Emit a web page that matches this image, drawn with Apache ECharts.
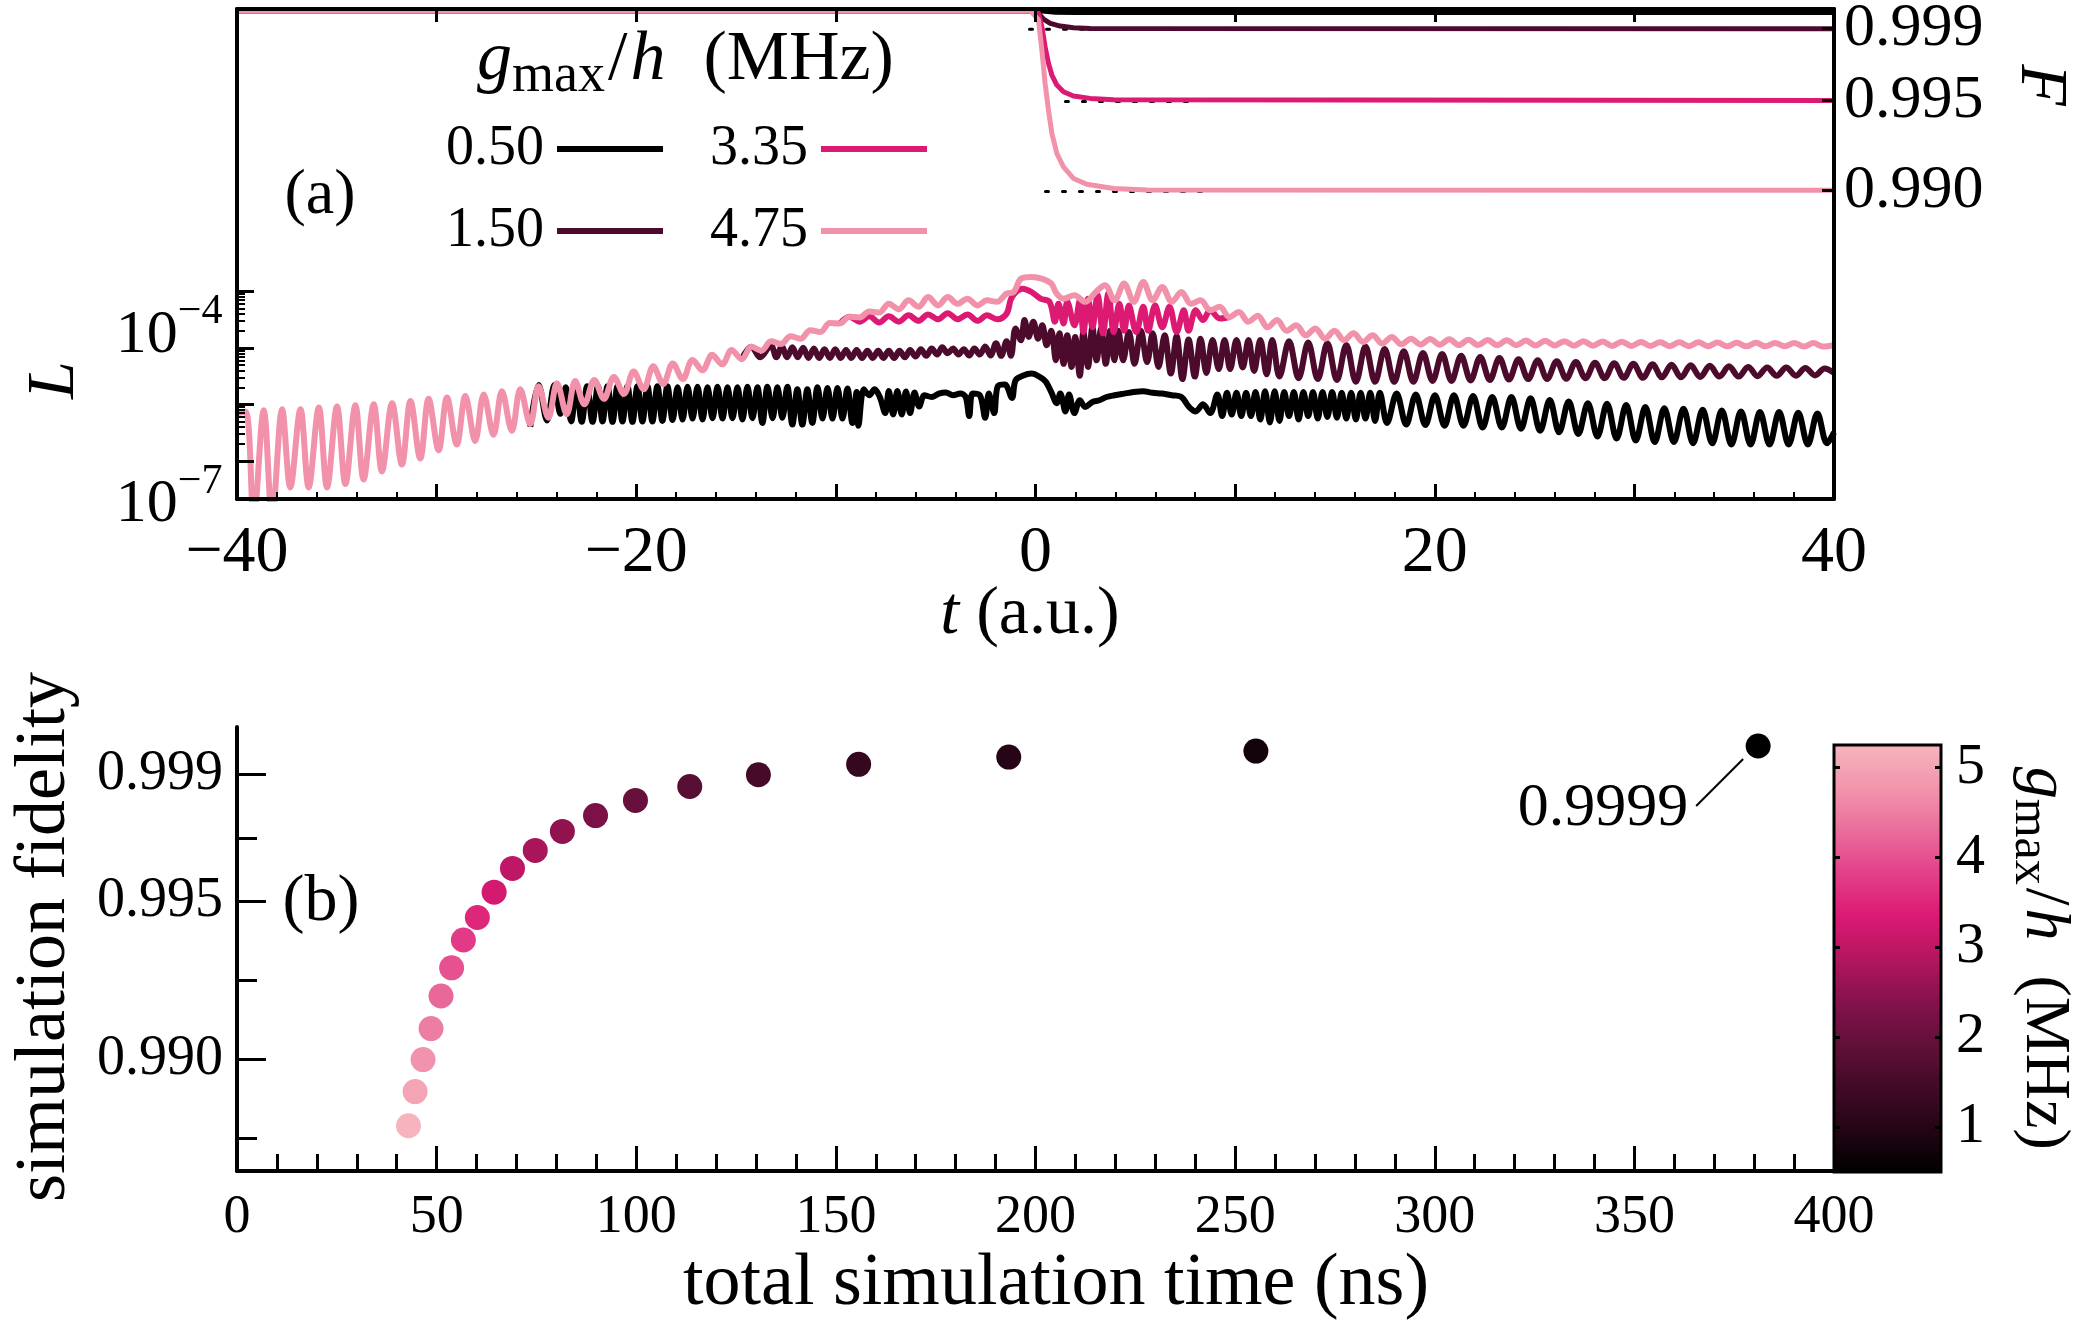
<!DOCTYPE html>
<html><head><meta charset="utf-8">
<script src="https://cdn.jsdelivr.net/npm/echarts@6/dist/echarts.min.js"></script>
<style>html,body{margin:0;padding:0;background:#fff}#c{width:2078px;height:1329px}</style>
</head><body><div id="c"></div>
<script>
// ================= DATA =================
// panel (a): legend values g_max/h (MHz)
const gNames = ['0.50', '1.50', '3.35', '4.75'];
// leakage L(t), [t, L]
const L_050 = [[-25.31,4.0e-7],[-24.89,2.2e-6],[-24.47,5.2e-7],[-24.1,2.2e-6],[-23.80,6.8e-7],[-23.53,2.0e-6],[-23.26,5.0e-7],[-23.00,2.05e-6],[-22.73,4.9e-7],[-22.46,2.1e-6],[-22.19,4.9e-7],[-21.92,2.1e-6],[-21.69,5.0e-7],[-21.44,2.1e-6],[-21.19,4.9e-7],[-20.94,2.1e-6],[-20.69,5.0e-7],[-20.44,2.1e-6],[-20.19,4.9e-7],[-19.94,2.1e-6],[-19.69,5.0e-7],[-19.44,2.1e-6],[-19.19,5.0e-7],[-18.94,2.1e-6],[-18.69,5.1e-7],[-18.44,2.1e-6],[-18.18,5.3e-7],[-17.93,2.0e-6],[-17.68,5.4e-7],[-17.43,2.05e-6],[-17.18,5.6e-7],[-16.93,2.05e-6],[-16.68,5.4e-7],[-16.43,2.0e-6],[-16.18,5.7e-7],[-15.93,2.05e-6],[-15.68,5.6e-7],[-15.43,2.0e-6],[-15.18,5.7e-7],[-14.93,2.0e-6],[-14.68,5.4e-7],[-14.43,2.05e-6],[-14.18,5.7e-7],[-13.93,2.0e-6],[-13.68,4.7e-7],[-13.43,2.05e-6],[-13.17,5.7e-7],[-12.93,2.0e-6],[-12.68,5.8e-7],[-12.43,2.05e-6],[-12.18,4.4e-7],[-11.93,1.85e-6],[-11.68,4.4e-7],[-11.43,1.85e-6],[-11.18,4.7e-7],[-10.92,2.0e-6],[-10.67,5.6e-7],[-10.42,1.95e-6],[-10.17,5.6e-7],[-9.92,1.95e-6],[-9.67,5.6e-7],[-9.42,1.9e-6],[-9.17,4.7e-7],[-8.96,1.65e-6],[-8.87,4.2e-7],[-8.60,1.85e-6],[-8.33,1.45e-6],[-8.06,1.85e-6],[-7.80,1.35e-6],[-7.53,7.0e-7],[-7.35,1.72e-6],[-7.13,6.6e-7],[-6.92,1.72e-6],[-6.70,6.6e-7],[-6.49,1.68e-6],[-6.28,7.0e-7],[-6.06,1.62e-6],[-5.83,9.2e-7],[-5.56,1.45e-6],[-5.20,1.35e-6],[-4.84,1.55e-6],[-4.49,1.62e-6],[-4.13,1.45e-6],[-3.77,1.55e-6],[-3.50,1.35e-6],[-3.32,6.2e-7],[-3.15,1.55e-6],[-2.79,1.45e-6],[-2.52,5.8e-7],[-2.34,1.55e-6],[-2.07,7.0e-7],[-1.89,2.1e-6],[-1.54,2.25e-6],[-1.18,1.3e-6],[-1.00,2.65e-6],[-0.64,3.2e-6],[-0.20,3.5e-6],[0.25,3.0e-6],[0.52,2.5e-6],[0.79,1.65e-6],[1.06,1.05e-6],[1.24,1.55e-6],[1.50,7.5e-7],[1.68,1.5e-6],[1.95,7.0e-7],[2.22,1.18e-6],[2.49,9.0e-7],[2.85,1.1e-6],[3.20,1.18e-6],[3.56,1.35e-6],[3.96,1.45e-6],[4.44,1.55e-6],[4.92,1.65e-6],[5.40,1.7e-6],[5.87,1.6e-6],[6.35,1.55e-6],[6.83,1.45e-6],[7.31,1.35e-6],[7.67,9.2e-7],[8.03,7.5e-7],[8.39,1.0e-6],[8.75,7.0e-7],[9.11,1.5e-6],[9.35,6.2e-7],[9.59,1.6e-6],[9.83,6.6e-7],[10.07,1.6e-6],[10.31,6.2e-7],[10.55,1.6e-6],[10.79,6.2e-7],[11.02,1.65e-6],[11.26,5.4e-7],[11.50,1.7e-6],[11.74,4.8e-7],[11.98,1.7e-6],[12.22,5.1e-7],[12.46,1.65e-6],[12.70,6.2e-7],[12.94,1.65e-6],[13.18,5.4e-7],[13.42,1.65e-6],[13.66,6.2e-7],[13.90,1.65e-6],[14.14,5.6e-7],[14.38,1.65e-6],[14.62,6.0e-7],[14.86,1.65e-6],[15.10,5.8e-7],[15.34,1.6e-6],[15.57,5.6e-7],[15.81,1.6e-6],[16.05,5.4e-7],[16.29,1.6e-6],[16.53,5.6e-7],[16.77,1.6e-6],[17.01,5.1e-7],[17.25,1.6e-6],[17.61,4.7e-7],[18.09,1.55e-6],[18.57,4.4e-7],[19.05,1.5e-6],[19.53,4.3e-7],[20.01,1.45e-6],[20.49,4.2e-7],[20.96,1.45e-6],[21.44,4.2e-7],[21.92,1.4e-6],[22.40,3.9e-7],[22.88,1.35e-6],[23.36,3.9e-7],[23.84,1.35e-6],[24.32,3.7e-7],[24.80,1.28e-6],[25.28,3.4e-7],[25.76,1.2e-6],[26.23,3.2e-7],[26.71,1.12e-6],[27.19,3.0e-7],[27.67,1.05e-6],[28.15,2.7e-7],[28.63,1.03e-6],[29.11,2.5e-7],[29.59,9.7e-7],[30.07,2.3e-7],[30.55,9.0e-7],[31.02,2.15e-7],[31.50,8.5e-7],[31.98,2.15e-7],[32.46,8.4e-7],[32.94,2.05e-7],[33.42,8.0e-7],[33.90,2.05e-7],[34.38,7.8e-7],[34.86,1.95e-7],[35.34,7.5e-7],[35.82,1.95e-7],[36.29,7.3e-7],[36.77,1.95e-7],[37.25,7.3e-7],[37.73,1.95e-7],[38.21,7.1e-7],[38.69,1.95e-7],[39.17,6.9e-7],[39.65,2.05e-7],[40,3.2e-7]];
const L_150 = [[-14.72,6.3e-6],[-14.23,1.04e-5],[-13.79,6.8e-6],[-13.25,1.1e-5],[-12.98,6.8e-6],[-12.71,1.05e-5],[-12.44,6.8e-6],[-12.18,1.02e-5],[-11.91,6.8e-6],[-11.64,1.0e-5],[-11.37,6.6e-6],[-11.10,9.7e-6],[-10.84,6.6e-6],[-10.57,9.4e-6],[-10.30,6.6e-6],[-10.03,9.4e-6],[-9.76,6.6e-6],[-9.49,9.1e-6],[-9.23,6.6e-6],[-8.96,9.1e-6],[-8.69,6.6e-6],[-8.42,8.9e-6],[-8.15,6.6e-6],[-7.88,8.9e-6],[-7.62,6.6e-6],[-7.35,8.9e-6],[-7.08,6.6e-6],[-6.81,8.9e-6],[-6.54,6.8e-6],[-6.28,9.1e-6],[-6.01,7.0e-6],[-5.74,9.4e-6],[-5.47,7.2e-6],[-5.20,9.7e-6],[-4.93,7.6e-6],[-4.67,1.02e-5],[-4.40,8.0e-6],[-4.13,9.7e-6],[-3.86,7.6e-6],[-3.59,9.4e-6],[-3.32,7.3e-6],[-3.06,9.7e-6],[-2.79,7.6e-6],[-2.52,1.05e-5],[-2.25,7.3e-6],[-1.98,1.2e-5],[-1.72,7.2e-6],[-1.45,1.3e-5],[-1.23,7.2e-6],[-1.00,2.2e-5],[-0.73,1.36e-5],[-0.55,3.1e-5],[-0.34,1.56e-5],[-0.11,2.9e-5],[0.13,1.45e-5],[0.34,2.5e-5],[0.56,1.11e-5],[0.79,2.0e-5],[1.02,6.0e-6],[1.20,1.8e-5],[1.41,5.2e-6],[1.59,1.66e-5],[1.81,4.6e-6],[1.99,1.56e-5],[2.22,3.2e-6],[2.40,1.9e-5],[2.63,4.6e-6],[2.85,2.3e-5],[3.06,6.0e-6],[3.29,2.2e-5],[3.52,5.2e-6],[3.74,2.0e-5],[3.95,6.0e-6],[4.15,2.0e-5],[4.39,6.0e-6],[4.68,1.9e-5],[4.96,5.2e-6],[5.28,2.0e-5],[5.59,5.6e-6],[5.87,1.8e-5],[6.16,4.6e-6],[6.47,1.66e-5],[6.78,3.5e-6],[7.07,1.6e-5],[7.36,2.8e-6],[7.67,1.4e-5],[7.98,3.1e-6],[8.27,1.45e-5],[8.56,3.6e-6],[8.87,1.38e-5],[9.18,4.2e-6],[9.47,1.38e-5],[9.75,4.2e-6],[10.07,1.38e-5],[10.38,4.5e-6],[10.67,1.38e-5],[10.95,3.9e-6],[11.26,1.38e-5],[11.58,3.4e-6],[11.86,1.38e-5],[12.22,3.1e-6],[12.70,1.3e-5],[13.18,2.9e-6],[13.66,1.24e-5],[14.14,2.8e-6],[14.62,1.2e-5],[15.10,2.7e-6],[15.57,1.12e-5],[16.05,2.5e-6],[16.53,1.05e-5],[17.01,2.5e-6],[17.49,9.5e-6],[17.97,2.5e-6],[18.45,8.7e-6],[18.93,2.5e-6],[19.41,8.1e-6],[19.89,2.6e-6],[20.37,7.8e-6],[20.84,2.6e-6],[21.32,7.2e-6],[21.80,2.65e-6],[22.28,6.9e-6],[22.76,2.7e-6],[23.24,6.6e-6],[23.72,2.75e-6],[24.20,6.3e-6],[24.68,2.8e-6],[25.16,6.0e-6],[25.63,2.8e-6],[26.11,5.8e-6],[26.59,2.85e-6],[27.07,5.6e-6],[27.55,2.9e-6],[28.03,5.45e-6],[28.51,2.9e-6],[28.99,5.35e-6],[29.47,2.95e-6],[29.95,5.2e-6],[30.43,2.95e-6],[30.91,5.1e-6],[31.38,3.0e-6],[31.86,5.0e-6],[32.34,3.0e-6],[32.82,4.9e-6],[33.30,3.05e-6],[33.78,4.8e-6],[34.26,3.1e-6],[34.74,4.7e-6],[35.22,3.1e-6],[35.70,4.6e-6],[36.17,3.15e-6],[36.65,4.5e-6],[37.13,3.2e-6],[37.61,4.5e-6],[38.09,3.2e-6],[38.57,4.4e-6],[39.05,3.25e-6],[39.53,4.3e-6],[40,3.6e-6]];
const L_335 = [[-9.80,2.7e-5],[-9.32,3.55e-5],[-8.81,2.9e-5],[-8.33,3.6e-5],[-7.83,2.8e-5],[-7.35,3.6e-5],[-6.85,2.9e-5],[-6.36,3.75e-5],[-5.86,3.0e-5],[-5.38,3.9e-5],[-4.88,3.2e-5],[-4.40,4.1e-5],[-3.90,3.2e-5],[-3.41,3.9e-5],[-2.91,3.0e-5],[-2.43,3.75e-5],[-1.93,3.2e-5],[-1.45,4.0e-5],[-1.18,7.9e-5],[-0.64,1.11e-4],[-0.20,9.7e-5],[0.25,7.4e-5],[0.70,6.5e-5],[0.97,2.9e-5],[1.15,6.0e-5],[1.41,2.7e-5],[1.59,6.5e-5],[1.95,2.5e-5],[2.22,6.9e-5],[2.40,1.9e-5],[2.63,7.4e-5],[2.85,2.3e-5],[3.11,8.5e-5],[3.38,1.8e-5],[3.65,9.1e-5],[3.92,1.9e-5],[4.20,6.0e-5],[4.44,2.0e-5],[4.68,5.6e-5],[5.04,1.9e-5],[5.40,5.3e-5],[5.64,2.0e-5],[5.99,5.6e-5],[6.35,2.3e-5],[6.71,5.3e-5],[7.07,1.9e-5],[7.43,4.6e-5],[7.67,2.0e-5],[8.03,4.6e-5],[8.39,3.1e-5],[8.75,4.6e-5],[9.23,3.3e-5],[9.71,3.5e-5]];
const L_475 = [[-40,7.0e-7],[-39.57,7.5e-7],[-39.16,1e-8],[-38.66,7.9e-7],[-38.24,1e-8],[-37.74,8.2e-7],[-37.33,3.4e-8],[-36.82,8.2e-7],[-36.41,3.4e-8],[-35.90,8.8e-7],[-35.49,3.4e-8],[-34.99,9.2e-7],[-34.57,3.9e-8],[-34.07,9.6e-7],[-33.66,4.7e-8],[-33.15,1.0e-6],[-32.74,6.5e-8],[-32.23,1.05e-6],[-31.74,8.6e-8],[-31.31,1.15e-6],[-30.82,1.1e-7],[-30.40,1.25e-6],[-29.90,1.55e-7],[-29.48,1.32e-6],[-28.99,1.95e-7],[-28.56,1.4e-6],[-28.07,2.25e-7],[-27.64,1.5e-6],[-27.15,2.9e-7],[-26.73,1.7e-6],[-26.23,3.4e-7],[-25.81,1.85e-6],[-25.31,4.5e-7],[-24.89,2.1e-6],[-24.40,5.8e-7],[-23.97,2.35e-6],[-23.48,6.7e-7],[-23.06,2.6e-6],[-22.60,1.0e-6],[-22.10,2.7e-6],[-21.62,1.25e-6],[-21.12,3.05e-6],[-20.62,1.53e-6],[-20.13,3.8e-6],[-19.63,1.85e-6],[-19.15,4.7e-6],[-18.65,2.3e-6],[-18.17,5.3e-6],[-17.67,2.8e-6],[-17.18,6.1e-6],[-16.68,4.0e-6],[-16.20,7.5e-6],[-15.70,5.1e-6],[-15.22,9.1e-6],[-14.72,6.3e-6],[-14.23,1.04e-5],[-13.73,8.9e-6],[-13.25,1.3e-5],[-12.75,1.17e-5],[-12.27,1.6e-5],[-11.77,1.45e-5],[-11.28,2.05e-5],[-10.78,1.9e-5],[-10.30,2.75e-5],[-9.80,2.7e-5],[-9.32,3.55e-5],[-8.81,3.45e-5],[-8.33,4.4e-5],[-7.83,4.2e-5],[-7.35,6.0e-5],[-6.85,4.8e-5],[-6.36,6.9e-5],[-5.86,5.3e-5],[-5.38,7.9e-5],[-4.88,5.6e-5],[-4.40,7.9e-5],[-3.90,6.0e-5],[-3.41,7.4e-5],[-2.91,5.6e-5],[-2.43,6.9e-5],[-1.93,6.5e-5],[-1.45,9.1e-5],[-1.09,9.7e-5],[-0.73,1.66e-4],[-0.20,1.79e-4],[0.34,1.66e-4],[0.79,1.37e-4],[1.06,9.1e-5],[1.41,7.4e-5],[1.95,8.5e-5],[2.49,6.5e-5],[3.02,9.7e-5],[3.48,1.28e-4],[3.96,6.9e-5],[4.44,1.37e-4],[4.92,6.5e-5],[5.40,1.46e-4],[5.87,6.9e-5],[6.35,1.19e-4],[6.83,6.5e-5],[7.31,9.7e-5],[7.79,6.0e-5],[8.27,6.9e-5],[8.75,4.6e-5],[9.23,5.3e-5],[9.71,3.5e-5],[10.19,4.3e-5],[10.66,2.9e-5],[11.14,3.7e-5],[11.62,2.3e-5],[12.10,3.1e-5],[12.58,2.0e-5],[13.06,2.5e-5],[13.54,1.66e-5],[14.02,2.2e-5],[14.50,1.45e-5],[14.98,2.0e-5],[15.46,1.36e-5],[15.93,1.8e-5],[16.41,1.27e-5],[16.89,1.66e-5],[17.37,1.19e-5],[17.85,1.56e-5],[18.33,1.15e-5],[18.81,1.45e-5],[19.29,1.14e-5],[19.77,1.43e-5],[20.25,1.13e-5],[20.73,1.41e-5],[21.21,1.12e-5],[21.69,1.39e-5],[22.17,1.12e-5],[22.65,1.37e-5],[23.13,1.11e-5],[23.61,1.36e-5],[24.09,1.11e-5],[24.57,1.34e-5],[25.05,1.1e-5],[25.53,1.33e-5],[26.01,1.1e-5],[26.49,1.31e-5],[26.97,1.09e-5],[27.45,1.3e-5],[27.93,1.09e-5],[28.41,1.29e-5],[28.89,1.08e-5],[29.37,1.28e-5],[29.85,1.08e-5],[30.33,1.27e-5],[30.81,1.08e-5],[31.29,1.26e-5],[31.77,1.07e-5],[32.25,1.25e-5],[32.73,1.07e-5],[33.21,1.25e-5],[33.69,1.07e-5],[34.17,1.24e-5],[34.65,1.06e-5],[35.13,1.23e-5],[35.61,1.06e-5],[36.09,1.23e-5],[36.57,1.06e-5],[37.05,1.22e-5],[37.53,1.06e-5],[38.01,1.22e-5],[38.49,1.05e-5],[38.97,1.21e-5],[39.45,1.05e-5],[40,1.12e-5]];
// fidelity F(t), [t, F]
const F_050 = [[-40,1.0],[0.2,1.0],[1.0,0.99992],[2.0,0.9999],[40,0.9999]];
const F_150 = [[-40,1.0],[0.05,1.0],[0.15,0.99986],[0.4,0.99953],[0.74,0.9993],[1.24,0.99915],[1.9,0.99906],[2.74,0.99902],[40,0.9990]];
const F_335 = [[-40,1.0],[0.0,1.0],[0.15,0.99986],[0.32,0.99911],[0.48,0.998],[0.65,0.99707],[0.82,0.99642],[1.07,0.99586],[1.4,0.99549],[1.9,0.99525],[2.74,0.99512],[3.91,0.99504],[40,0.9950]];
const F_475 = [[-40,1.0],[-0.27,1.0],[-0.1,0.99982],[0.15,0.99949],[0.32,0.99781],[0.48,0.99596],[0.65,0.99447],[0.82,0.99317],[1.07,0.99205],[1.4,0.9913],[1.9,0.99066],[2.57,0.99034],[3.91,0.9901],[5.58,0.99001],[40,0.9900]];
// dotted reference levels
const refF_150 = [[-0.3,0.99897],[2.6,0.99897]];
const refF_335 = [[1.5,0.99495],[8.0,0.99495]];
const refF_475 = [[0.5,0.98993],[8.4,0.98993]];
// axis ticks (a)
const tTickLabels = [-40, -20, 0, 20, 40];
const lMajorTicks = [1e-7, 1e-6, 1e-5, 1e-4];
const lTickLabels = [1e-7, 1e-4];
const lMinorTicks = [2e-7,3e-7,4e-7,5e-7,6e-7,7e-7,8e-7,9e-7,2e-6,3e-6,4e-6,5e-6,6e-6,7e-6,8e-6,9e-6,2e-5,3e-5,4e-5,5e-5,6e-5,7e-5,8e-5,9e-5];
const fTicksA = [0.990, 0.995, 0.999];

// panel (b): total simulation time (ns), simulation fidelity, g_max/h (MHz)
const simTime = [42.95,44.6,46.6,48.6,51.1,53.75,56.7,60.2,64.4,69.0,74.7,81.5,89.8,99.8,113.4,130.6,155.7,193.3,255.2,381.0];
const simFidelity = [0.98790,0.98898,0.98999,0.99097,0.99200,0.99289,0.99377,0.99448,0.99528,0.99603,0.99660,0.99720,0.99770,0.99818,0.99862,0.99899,0.99932,0.99955,0.99974,0.99990];
const simG = [5.25,5.0,4.75,4.5,4.25,4.0,3.75,3.5,3.25,3.0,2.75,2.5,2.25,2.0,1.75,1.5,1.25,1.0,0.75,0.5];
const fTicksB = [0.990, 0.995, 0.999];
const fMinorB = [0.9875, 0.9925, 0.997];
const cbTicks = [1, 2, 3, 4, 5];
const annotationText = '0.9999';

// ================= STYLE =================
const FONT = 'Liberation Serif';
const lineColor = {'0.50':'#000000','1.50':'#4c0b2d','3.35':'#dd1a73','4.75':'#f291aa'};
const cmap = ['#000000','#240515','#420a27','#621039','#86124c','#b4165f','#dc1a74','#e3408a','#ea6d9c','#f195ad','#f8b4be'];

const chart = echarts.init(document.getElementById('c'), null, {width: 2078, height: 1329});

function lSeries(name, data) {
  return {type:'line', name, data, xAxisIndex:0, yAxisIndex:0, showSymbol:false, symbol:'none', z:2, smooth:0.35,
    lineStyle:{color:lineColor[name], width:6}, itemStyle:{color:lineColor[name]}, emphasis:{disabled:true}};
}
function fSeries(name, data) {
  return {type:'line', name, data, xAxisIndex:0, yAxisIndex:2, showSymbol:false, symbol:'none', z:2,
    lineStyle:{color:lineColor[name], width:5}, itemStyle:{color:lineColor[name]}, emphasis:{disabled:true}};
}
function refSeries(name, data) {
  return {type:'line', name, data, xAxisIndex:0, yAxisIndex:2, showSymbol:false, symbol:'none', z:1,
    lineStyle:{color:'#000', width:3, type:[3,14], cap:'round'}, emphasis:{disabled:true}};
}

const noSplit = {show:false};
const black = '#000';
const logLabelFmt = v => { const e = Math.round(Math.log10(v)); return '{b|10}{s|\u2212' + (-e) + '}{sp| }'; };

const legendBase = {orient:'horizontal', itemGap:47, itemWidth:106, itemHeight:6, icon:'rect', align:'right',
  selectedMode:false, padding:0, textStyle:{fontFamily:FONT, fontSize:56, color:black, lineHeight:60, padding:[0,8,0,0]}};

const option = {
  animation:false,
  backgroundColor:'#fff',
  textStyle:{fontFamily:FONT},
  grid:[
    {left:237, top:9, width:1597, height:490, outerBoundsMode:'none'},
    {left:237, top:727, width:1597, height:444, outerBoundsMode:'none'},
    {left:1834, top:745, width:107, height:427, outerBoundsMode:'none'}
  ],
  legend:[
    Object.assign({}, legendBase, {data:[gNames[0], gNames[2]], left:446, top:119}),
    Object.assign({}, legendBase, {data:[gNames[1], gNames[3]], left:446, top:201})
  ],
  xAxis:[
    {type:'value', gridIndex:0, min:-40, max:40, interval:10, position:'bottom', z:3,
      axisLine:{show:true, onZero:false, lineStyle:{color:black, width:4}},
      axisTick:{show:true, inside:true, length:15, lineStyle:{color:black, width:3}},
      minorTick:{show:true, splitNumber:5, length:7, lineStyle:{color:black, width:2}},
      axisLabel:{customValues:tTickLabels, fontFamily:FONT, fontSize:66, color:black, margin:22,
        formatter:v => v < 0 ? '\u2212' + (-v) : String(v)},
      splitLine:noSplit, minorSplitLine:noSplit},
    {type:'value', gridIndex:0, min:-40, max:40, interval:10, position:'top', z:3,
      axisLine:{show:true, onZero:false, lineStyle:{color:black, width:4}},
      axisTick:{show:true, inside:true, length:13, lineStyle:{color:black, width:3}},
      axisLabel:{show:false}, splitLine:noSplit},
    {type:'value', gridIndex:1, min:0, max:400, interval:50, position:'bottom', z:3,
      axisLine:{show:true, onZero:false, lineStyle:{color:black, width:4}},
      axisTick:{show:true, inside:true, length:25, lineStyle:{color:black, width:3}},
      minorTick:{show:true, splitNumber:5, length:17, lineStyle:{color:black, width:3}},
      axisLabel:{fontFamily:FONT, fontSize:54, color:black, margin:20},
      splitLine:noSplit, minorSplitLine:noSplit},
    {type:'value', gridIndex:2, min:0, max:1, show:false, axisLine:{onZero:false}, splitLine:noSplit}
  ],
  yAxis:[
    {type:'log', logBase:10, gridIndex:0, min:2.12e-8, max:9.8, position:'left', z:3,
      axisLine:{show:true, onZero:false, lineStyle:{color:black, width:4}},
      axisTick:{show:true, inside:true, length:17, customValues:lMajorTicks, lineStyle:{color:black, width:3}},
      axisLabel:{customValues:lTickLabels, formatter:logLabelFmt, margin:14, verticalAlign:'top', color:black,
        rich:{b:{fontFamily:FONT, fontSize:62, lineHeight:62, verticalAlign:'bottom', color:black},
              s:{fontFamily:FONT, fontSize:42, lineHeight:42, verticalAlign:'top', color:black},
              sp:{fontSize:2, lineHeight:75, verticalAlign:'bottom'}}},
      splitLine:noSplit},
    {type:'log', logBase:10, gridIndex:0, min:2.12e-8, max:9.8, position:'left', z:3,
      axisLine:{show:false, onZero:false},
      axisTick:{show:true, inside:true, length:8, customValues:lMinorTicks, lineStyle:{color:black, width:2}},
      axisLabel:{show:false}, splitLine:noSplit},
    {type:'value', gridIndex:0, min:0.9728, max:1.0001, position:'right', z:3,
      axisLine:{show:true, onZero:false, lineStyle:{color:black, width:4}},
      axisTick:{show:true, inside:true, length:12, customValues:fTicksA, lineStyle:{color:black, width:3}},
      axisLabel:{customValues:fTicksA, fontFamily:FONT, fontSize:62, color:black, margin:10, formatter:v => v.toFixed(3)},
      splitLine:noSplit},
    {type:'value', gridIndex:1, min:0.98647, max:1.0005, position:'left', z:3,
      axisLine:{show:true, onZero:false, lineStyle:{color:black, width:4}},
      axisTick:{show:true, inside:true, length:29, customValues:fTicksB, lineStyle:{color:black, width:3}},
      axisLabel:{customValues:fTicksB, fontFamily:FONT, fontSize:56, color:black, margin:14, formatter:v => v.toFixed(3)},
      splitLine:noSplit},
    {type:'value', gridIndex:1, min:0.98647, max:1.0005, position:'left', z:3,
      axisLine:{show:false, onZero:false},
      axisTick:{show:true, inside:true, length:20, customValues:fMinorB, lineStyle:{color:black, width:3}},
      axisLabel:{show:false}, splitLine:noSplit},
    {type:'value', gridIndex:2, min:0.5, max:5.25, position:'right', z:6,
      axisLine:{show:false, onZero:false},
      axisTick:{show:true, inside:true, length:6, customValues:cbTicks, lineStyle:{color:black, width:3}},
      axisLabel:{customValues:cbTicks, fontFamily:FONT, fontSize:58, color:black, margin:15},
      splitLine:noSplit},
    {type:'value', gridIndex:2, min:0.5, max:5.25, position:'left', z:6,
      axisLine:{show:false, onZero:false},
      axisTick:{show:true, inside:true, length:6, customValues:cbTicks, lineStyle:{color:black, width:3}},
      axisLabel:{show:false}, splitLine:noSplit}
  ],
  visualMap:[{
    type:'continuous', min:0.5, max:5.25, dimension:2, seriesIndex:11,
    left:1834, top:745, itemWidth:107, itemHeight:427, padding:0,
    calculable:false, hoverLink:false, text:null, showLabel:false,
    inRange:{color:cmap}, textStyle:{color:'transparent', fontSize:1}
  }],
  series:[
    lSeries(gNames[0], L_050),
    lSeries(gNames[1], L_150),
    lSeries(gNames[2], L_335),
    lSeries(gNames[3], L_475),
    refSeries('ref150', refF_150),
    refSeries('ref335', refF_335),
    refSeries('ref475', refF_475),
    fSeries(gNames[0], F_050),
    fSeries(gNames[1], F_150),
    fSeries(gNames[2], F_335),
    fSeries(gNames[3], F_475),
    {type:'scatter', xAxisIndex:2, yAxisIndex:3, symbol:'circle', symbolSize:25, z:4,
      itemStyle:{opacity:1},
      data: simTime.map((t, i) => [t, simFidelity[i], simG[i]]),
      encode:{x:0, y:1}, emphasis:{disabled:true}}
  ]
};
chart.setOption(option);

// anchor annotation to the last data point
const pLast = chart.convertToPixel({xAxisIndex:2, yAxisIndex:3}, [simTime[simTime.length-1], simFidelity[simFidelity.length-1]]);

const italic = {fontFamily:FONT, fontStyle:'italic'};
chart.setOption({graphic:[
  {id:'ta', type:'text', x:320, y:196, z:50, style:{text:'(a)', fontFamily:FONT, fontSize:64, fill:black, align:'center', verticalAlign:'middle'}},
  {id:'tb', type:'text', x:321, y:903, z:50, style:{text:'(b)', fontFamily:FONT, fontSize:66, fill:black, align:'center', verticalAlign:'middle'}},
  {id:'legtitle', type:'text', x:477, y:65, z:50, style:{
    text:'{i|g}{s|max}{n|/}{i|h}{n|  (MHz)}{sp| }', align:'left', verticalAlign:'middle', fill:black,
    rich:{i:{fontFamily:FONT, fontStyle:'italic', fontSize:70, lineHeight:70, verticalAlign:'top'},
          n:{fontFamily:FONT, fontSize:70, lineHeight:70, verticalAlign:'top', padding:[0,3,0,3]},
          s:{fontFamily:FONT, fontSize:54, lineHeight:54, verticalAlign:'bottom'},
          sp:{fontSize:2, lineHeight:78, verticalAlign:'bottom'}}}},
  {id:'Flab', type:'text', x:2040, y:85, rotation:-Math.PI/2, z:50, style:Object.assign({text:'F', fontSize:68, fill:black, align:'center', verticalAlign:'middle'}, italic)},
  {id:'Llab', type:'text', x:55, y:380, rotation:Math.PI/2, z:50, style:Object.assign({text:'L', fontSize:68, fill:black, align:'center', verticalAlign:'middle'}, italic)},
  {id:'tlab', type:'text', x:1030, y:615, z:50, style:{text:'{i|t}{n| (a.u.)}', align:'center', verticalAlign:'middle', fill:black,
    rich:{i:{fontFamily:FONT, fontStyle:'italic', fontSize:68}, n:{fontFamily:FONT, fontSize:68}}}},
  {id:'simfid', type:'text', x:45, y:937, rotation:Math.PI/2, z:50, style:{text:'simulation fidelity', fontFamily:FONT, fontSize:72, fill:black, align:'center', verticalAlign:'middle'}},
  {id:'simtime', type:'text', x:1056, y:1285, z:50, style:{text:'total simulation time (ns)', fontFamily:FONT, fontSize:74, fill:black, align:'center', verticalAlign:'middle'}},
  {id:'cbtitle', type:'text', x:2040, y:960, rotation:-Math.PI/2, z:50, style:{
    text:'{i|g}{s|max}{n|/}{i|h}{n|  (MHz)}{sp| }', align:'center', verticalAlign:'middle', fill:black,
    rich:{i:{fontFamily:FONT, fontStyle:'italic', fontSize:64, lineHeight:64, verticalAlign:'top'},
          n:{fontFamily:FONT, fontSize:64, lineHeight:64, verticalAlign:'top', padding:[0,3,0,3]},
          s:{fontFamily:FONT, fontSize:50, lineHeight:50, verticalAlign:'bottom'},
          sp:{fontSize:2, lineHeight:72, verticalAlign:'bottom'}}}},
  {id:'cbframe', type:'rect', z:60, shape:{x:1834, y:745, width:107, height:427}, style:{fill:null, stroke:black, lineWidth:3}},
  {id:'anntext', type:'text', x:pLast[0]-70, y:pLast[1]+63, z:50, style:{text:annotationText, fontFamily:FONT, fontSize:62, fill:black, align:'right', verticalAlign:'middle'}},
  {id:'annline', type:'line', z:50, shape:{x1:pLast[0]-62, y1:pLast[1]+60, x2:pLast[0]-15, y2:pLast[1]+13}, style:{stroke:black, lineWidth:2}}
]});
</script>
</body></html>
